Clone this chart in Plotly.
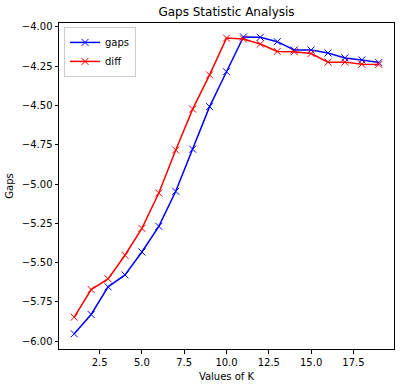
import plotly.graph_objects as go

k_values = list(range(1, 20))
gaps = [-5.953, -5.830, -5.654, -5.578, -5.432, -5.269, -5.046, -4.778, -4.507, -4.285,
        -4.064, -4.066, -4.094, -4.147, -4.147, -4.166, -4.197, -4.210, -4.227]
diff = [-5.847, -5.671, -5.603, -5.453, -5.282, -5.057, -4.783, -4.523, -4.305, -4.071,
        -4.077, -4.109, -4.156, -4.158, -4.169, -4.224, -4.224, -4.237, -4.239]

font = "DejaVu Sans"
fig = go.Figure()
for name, vals, col in [("gaps", gaps, "#0000ff"), ("diff", diff, "#ff0000")]:
    fig.add_trace(go.Scatter(
        x=k_values, y=vals, name=name, mode="lines+markers",
        line=dict(color=col, width=1.5),
        marker=dict(symbol="x-thin", size=7, line=dict(color=col, width=1), color=col),
    ))

axis_common = dict(
    showgrid=False, zeroline=False, showline=True, mirror=True,
    linecolor="black", linewidth=1, ticks="outside", ticklen=3.5, tickwidth=0.8,
    tickcolor="black", tickfont=dict(family=font, size=10, color="black"),
)
fig.update_xaxes(range=[0.1, 19.9], tick0=0, dtick=2.5, tickformat=".1f",
                 title=dict(text="Values of K", font=dict(family=font, size=10, color="black"), standoff=6),
                 **axis_common)
fig.update_yaxes(range=[-6.0495, -3.975], tick0=0, dtick=0.25, tickformat=".2f",
                 title=dict(text="Gaps", font=dict(family=font, size=10, color="black"), standoff=6),
                 **axis_common)
fig.update_layout(
    width=400, height=387,
    margin=dict(l=59, r=6, t=23, b=38),
    paper_bgcolor="white", plot_bgcolor="white",
    title=dict(text="Gaps Statistic Analysis", x=0.5 * (59 + 394) / 400, xanchor="center",
               y=1 - 12 / 387, yanchor="middle", font=dict(family=font, size=12, color="black")),
    legend=dict(x=0.015, y=0.988, xanchor="left", yanchor="top",
                bordercolor="#cccccc", borderwidth=1, bgcolor="rgba(255,255,255,0.8)",
                font=dict(family=font, size=10, color="black"), tracegroupgap=0,
                itemwidth=30),
    showlegend=True,
)
fig.write_html("out.html", config={"displayModeBar": False},
               post_script="document.body.style.margin='0';document.body.style.padding='0';")
